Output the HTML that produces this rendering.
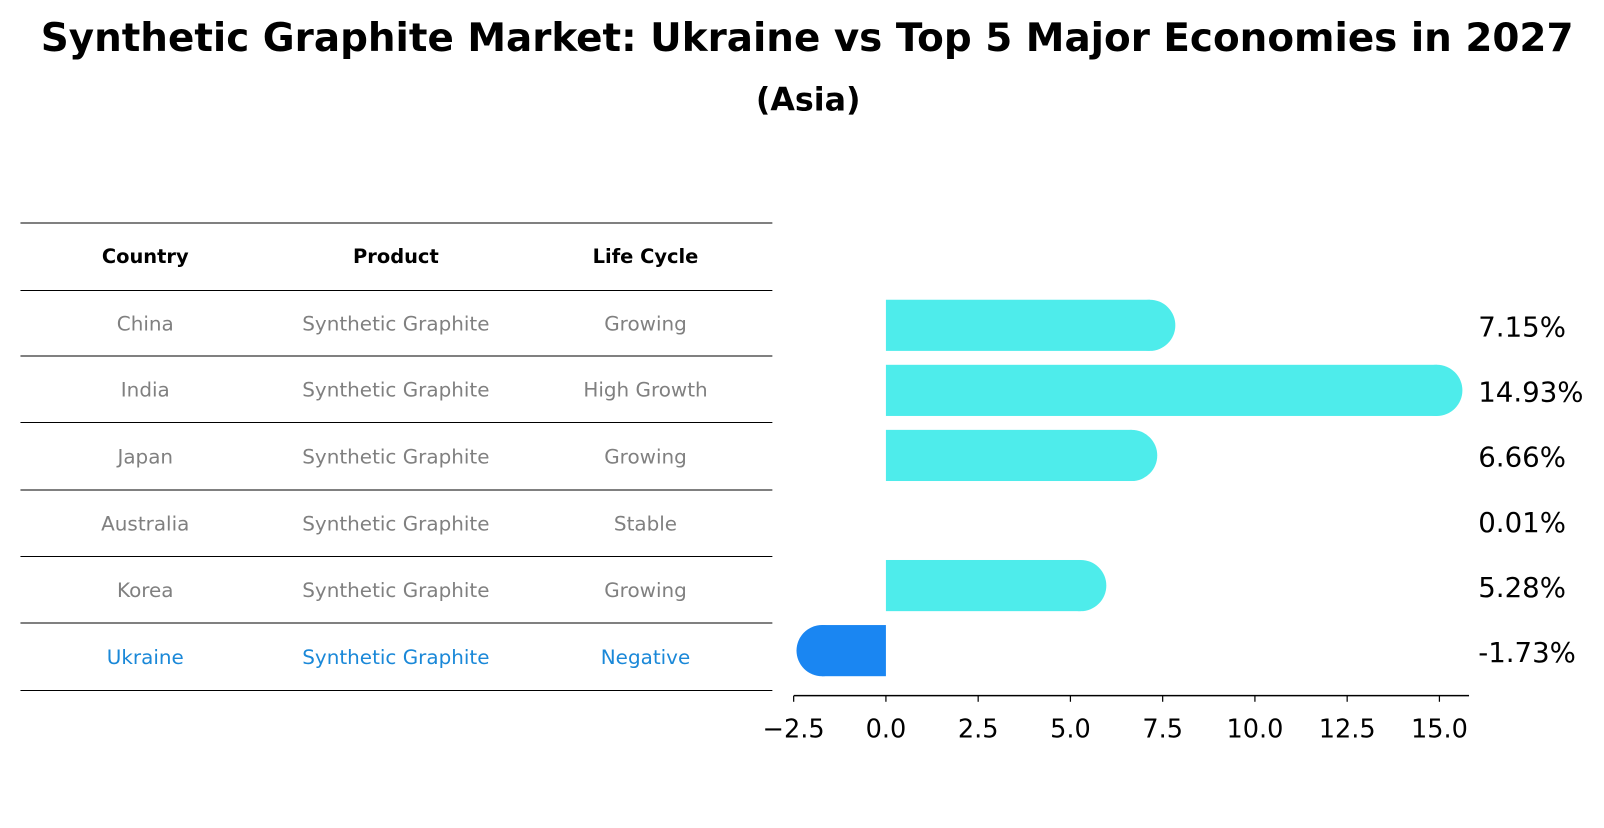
<!DOCTYPE html>
<html><head><meta charset="utf-8"><style>
body{margin:0;background:#fff;font-family:"Liberation Sans","DejaVu Sans",sans-serif;}
svg text{font-family:"DejaVu Sans","Liberation Sans",sans-serif;}
</style></head><body>
<svg id="chart" width="1604" height="823" xmlns="http://www.w3.org/2000/svg">
<g transform="scale(1.023)">
<text x="789" y="50" text-anchor="middle" font-size="38" font-weight="bold">Synthetic Graphite Market: Ukraine vs Top 5 Major Economies in 2027</text>
<text x="790" y="108" text-anchor="middle" font-size="31" font-weight="bold">(Asia)</text>
<g id="table"></g>
<g id="bars"></g>
</g>
</svg>
<script>
const countries=["China","India","Japan","Australia","Korea","Ukraine"];
const products=["Synthetic Graphite","Synthetic Graphite","Synthetic Graphite","Synthetic Graphite","Synthetic Graphite","Synthetic Graphite"];
const lifeCycles=["Growing","High Growth","Growing","Stable","Growing","Negative"];
const growth=[7.15,14.93,6.66,0.01,5.28,-1.73];
const xTicks=[-2.5,0,2.5,5,7.5,10,12.5,15];
const NS="http://www.w3.org/2000/svg";
function mk(tag,attrs,parent){const e=document.createElementNS(NS,tag);for(const k in attrs)e.setAttribute(k,attrs[k]);parent.appendChild(e);return e;}
const table=document.getElementById('table');
const lineYs=[218,284,348,413,479,544,609,675];
const colX=[142,387,631];
for(let i=0;i<lineYs.length;i++){
  const l=mk('line',{x1:20,x2:755,y1:lineYs[i],y2:lineYs[i],stroke:'#000','stroke-width':1},table);
  
  
}
const headers=["Country","Product","Life Cycle"];
headers.forEach((h,j)=>{
  const t=mk('text',{x:colX[j],y:257,'text-anchor':'middle','font-size':19,'font-weight':'bold'},table);
  t.textContent=h;
  
  
});
countries.forEach((c,i)=>{
  const y=(lineYs[i+1]+lineYs[i+2])/2+7;
  const col=c==="Ukraine"?'#1a88d8':'#808080';
  [c,products[i],lifeCycles[i]].forEach((v,j)=>{
    const t=mk('text',{x:colX[j],y:y,'text-anchor':'middle','font-size':19.5,fill:col},table);
    t.textContent=v;
    
    
  });
});
const bars=document.getElementById('bars');
const x0=866,pxPer=36.07;
const xs=v=>x0+v*pxPer;
const yc=i=>318+i*63.6;
const bh=50,r=25;
growth.forEach((v,i)=>{
  const c=yc(i);
  const col=v<0?'#1a86f2':'#4eeceb';
  if(Math.abs(v)>0.05){
    const a=xs(0),b=xs(v);
    const lo=Math.min(a,b),hi=Math.max(a,b);
    const p=mk('rect',{x:lo,y:c-bh/2,width:hi-lo,height:bh,fill:col},bars);
    
    
    const cap=mk('circle',{cx:b,cy:c,r:r,fill:col},bars);
    
    
  }
  const t=mk('text',{x:1445,y:c+11,'font-size':27},bars);
  t.textContent=v.toFixed(2)+'%';
  
  
});
const ax=mk('line',{x1:776,x2:1436,y1:680,y2:680,stroke:'#000','stroke-width':1.5},bars);


xTicks.forEach(v=>{
  const tk=mk('line',{x1:xs(v),x2:xs(v),y1:680,y2:686,stroke:'#000','stroke-width':1.2},bars);
  
  
  const t=mk('text',{x:xs(v),y:721,'text-anchor':'middle','font-size':25},bars);
  t.textContent=(v<0?'\u2212':'')+Math.abs(v).toFixed(1);
  
  
});
</script>
</body></html>
